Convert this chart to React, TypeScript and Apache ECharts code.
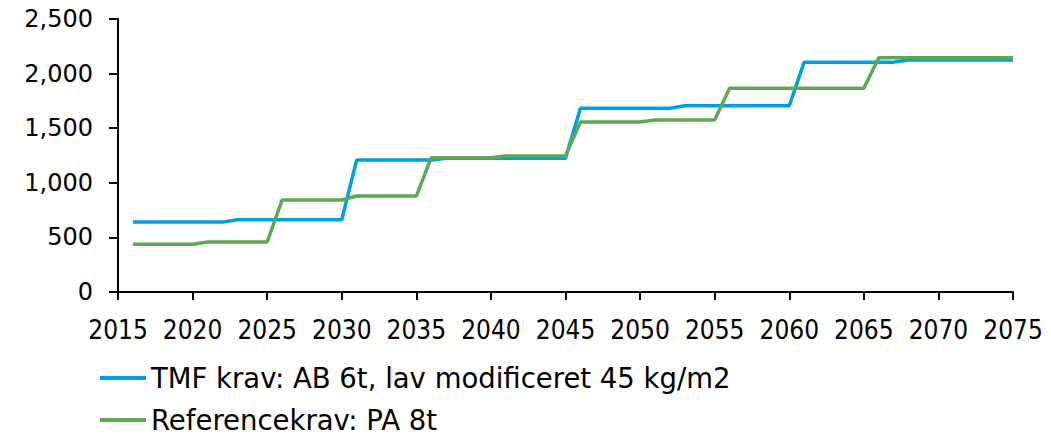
import React, { useEffect, useRef } from "react";
import * as echarts from "echarts";

const years = [
  2016, 2017, 2018, 2019, 2020, 2021, 2022, 2023, 2024, 2025,
  2026, 2027, 2028, 2029, 2030, 2031, 2032, 2033, 2034, 2035,
  2036, 2037, 2038, 2039, 2040, 2041, 2042, 2043, 2044, 2045,
  2046, 2047, 2048, 2049, 2050, 2051, 2052, 2053, 2054, 2055,
  2056, 2057, 2058, 2059, 2060, 2061, 2062, 2063, 2064, 2065,
  2066, 2067, 2068, 2069, 2070, 2071, 2072, 2073, 2074, 2075,
];

const tmfValues = [
  640, 640, 640, 640, 640, 640, 640, 662, 662, 662,
  662, 662, 662, 662, 662, 1208, 1208, 1208, 1208, 1208,
  1208, 1224, 1224, 1224, 1224, 1224, 1224, 1224, 1224, 1224,
  1682, 1682, 1682, 1682, 1682, 1682, 1682, 1705, 1705, 1705,
  1705, 1705, 1705, 1705, 1705, 2105, 2105, 2105, 2105, 2105,
  2105, 2105, 2125, 2125, 2125, 2125, 2125, 2125, 2125, 2125,
];

const referenceValues = [
  437, 437, 437, 437, 437, 458, 458, 458, 458, 458,
  842, 842, 842, 842, 842, 879, 879, 879, 879, 879,
  1230, 1230, 1230, 1230, 1230, 1246, 1246, 1246, 1246, 1246,
  1557, 1557, 1557, 1557, 1557, 1575, 1575, 1575, 1575, 1575,
  1865, 1865, 1865, 1865, 1865, 1865, 1865, 1865, 1865, 1865,
  2146, 2146, 2146, 2146, 2146, 2146, 2146, 2146, 2146, 2146,
];

const seriesNames = [
  "TMF krav: AB 6t, lav modificeret 45 kg/m2",
  "Referencekrav: PA 8t",
];

const FONT = "DejaVu Sans";
const FONT_COND = "'DejaVu Sans Condensed', 'DejaVu Sans'";

export default function App() {
  const ref = useRef<HTMLDivElement>(null);
  useEffect(() => {
    if (!ref.current) return;
    const chart = echarts.init(ref.current, undefined, { renderer: "svg" });
    const toPairs = (vals: number[]) => years.map((y, i) => [y, vals[i]]);
    const legendBase = {
      orient: "vertical",
      left: 95,
      icon: "rect",
      itemWidth: 46,
      itemHeight: 4,
      itemGap: 0,
      textStyle: { fontFamily: FONT, fontSize: 27.5, color: "#000" },
    };
    chart.setOption({
      animation: false,
      grid: { left: 118, right: 38, top: 19, bottom: 143, containLabel: false },
      legend: [
        { ...legendBase, top: 359, data: [seriesNames[0]] },
        { ...legendBase, top: 401, data: [seriesNames[1]] },
      ],
      xAxis: {
        type: "value",
        min: 2015,
        max: 2075,
        interval: 5,
        splitLine: { show: false },
        axisLine: { onZero: false, lineStyle: { color: "#000", width: 2 } },
        axisTick: { show: true, length: 8, lineStyle: { color: "#000", width: 2 } },
        axisLabel: {
          margin: 25,
          fontFamily: FONT_COND,
          fontSize: 26,
          color: "#000",
          formatter: (v: number) => String(v),
        },
      },
      yAxis: {
        type: "value",
        min: 0,
        max: 2500,
        interval: 500,
        splitLine: { show: false },
        axisLine: { show: true, lineStyle: { color: "#000", width: 2 } },
        axisTick: { show: true, length: 9, lineStyle: { color: "#000", width: 2 } },
        axisLabel: {
          margin: 25,
          fontFamily: FONT,
          fontSize: 24,
          color: "#000",
          formatter: (v: number) => v.toLocaleString("en-US"),
        },
      },
      series: [
        {
          name: seriesNames[0],
          type: "line",
          data: toPairs(tmfValues),
          symbol: "none",
          lineStyle: { color: "#009FE3", width: 3.5 },
          itemStyle: { color: "#009FE3" },
        },
        {
          name: seriesNames[1],
          type: "line",
          data: toPairs(referenceValues),
          symbol: "none",
          lineStyle: { color: "#5DA852", width: 3.5 },
          itemStyle: { color: "#5DA852" },
        },
      ],
    });
    return () => chart.dispose();
  }, []);
  return <div ref={ref} style={{ width: 1051, height: 435, position: "absolute", left: 0, top: 0 }} />;
}
